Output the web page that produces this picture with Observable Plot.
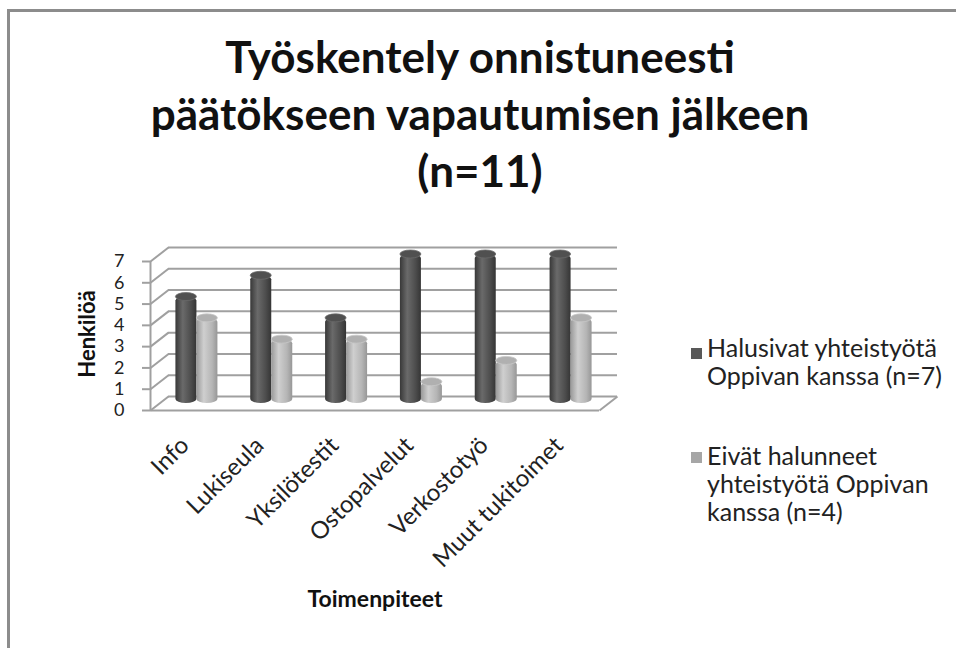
<!DOCTYPE html>
<html><head><meta charset="utf-8">
<script src="https://cdn.jsdelivr.net/npm/d3@7"></script>
<script src="https://cdn.jsdelivr.net/npm/@observablehq/plot@0.6"></script>
<style>
html,body{margin:0;padding:0;background:#fff;}
#wrap{position:relative;width:956px;height:648px;overflow:hidden;background:#fff;font-family:Lato, sans-serif;}
#frame{position:absolute;left:7px;top:9px;width:1000px;height:700px;border-top:3px solid #8c8c8c;border-left:3px solid #8c8c8c;}
#chart{position:absolute;left:0;top:0;}
#title{position:absolute;left:0;top:28px;width:960px;text-align:center;font-weight:700;font-size:44px;line-height:57px;color:#111;}
.legend-item{position:absolute;left:707px;width:262px;font-size:25px;line-height:28px;color:#222;}
.swatch{position:absolute;left:691px;width:11px;height:11px;}
</style></head>
<body>
<svg width="0" height="0" style="position:absolute">
  <defs>
    <linearGradient id="gDark" x1="0" x2="1" y1="0" y2="0">
      <stop offset="0" stop-color="#383838"/>
      <stop offset="0.35" stop-color="#6a6a6a"/>
      <stop offset="0.75" stop-color="#4c4c4c"/>
      <stop offset="1" stop-color="#353535"/>
    </linearGradient>
    <linearGradient id="gLight" x1="0" x2="1" y1="0" y2="0">
      <stop offset="0" stop-color="#999999"/>
      <stop offset="0.35" stop-color="#cfcfcf"/>
      <stop offset="0.75" stop-color="#b5b5b5"/>
      <stop offset="1" stop-color="#979797"/>
    </linearGradient>
  </defs>
</svg>
<div id="wrap">
  <div id="frame"></div>
  <div id="chart"></div>
  <div id="title"></div>
</div>
<script>
const titleLines = ["Työskentely onnistuneesti", "päätökseen vapautumisen jälkeen", "(n=11)"];
const categories = ["Info", "Lukiseula", "Yksilötestit", "Ostopalvelut", "Verkostotyö", "Muut tukitoimet"];
const wanted = [5, 6, 4, 7, 7, 7];
const notWanted = [4, 3, 3, 1, 2, 4];
const seriesNames = ["Halusivat yhteistyötä Oppivan kanssa (n=7)", "Eivät halunneet yhteistyötä Oppivan kanssa (n=4)"];
const seriesColors = ["#595959", "#a6a6a6"];
const yTicks = [0, 1, 2, 3, 4, 5, 6, 7];
const yLabel = "Henkilöä";
const xLabel = "Toimenpiteet";

const W = 956, H = 648;
const mL = 150, mR = 357, mT = 261, mB = 238;
const pxPerX = (W - mL - mR) / categories.length;
const pxPerY = (H - mT - mB) / 7;
const depth = {x: 18, y: 14};
const DX = depth.x / pxPerX, DY = depth.y / pxPerY;
const BW = 21 / pxPerX;
const grid = "#a0a0a0";

const rows = categories.flatMap((c, i) => [
  {cat: c, i, s: 0, value: wanted[i]},
  {cat: c, i, s: 1, value: notWanted[i]}
]);
const dark = rows.filter(d => d.s === 0);
const light = rows.filter(d => d.s === 1);

const chart = Plot.plot({
  width: W, height: H,
  marginLeft: mL, marginRight: mR, marginTop: mT, marginBottom: mB,
  x: {domain: [0, categories.length], axis: null},
  y: {domain: [0, 7], axis: null},
  style: {background: "transparent", fontFamily: "Lato, sans-serif", color: "#222"},
  marks: [
    Plot.ruleY(yTicks, {y: d => d, dx: depth.x, dy: -depth.y, stroke: grid, strokeWidth: 2}),
    Plot.link(yTicks, {x1: 0, y1: d => d, x2: DX, y2: d => d + DY, stroke: grid, strokeWidth: 2}),
    Plot.ruleX([0], {y1: 0, y2: 7, stroke: grid, strokeWidth: 2}),
    Plot.ruleY(yTicks, {y: d => d, x1: -8 / pxPerX, x2: 0, stroke: grid, strokeWidth: 2}),
    Plot.ruleY([0], {y: d => d, x1: 0, x2: categories.length, stroke: grid, strokeWidth: 2}),
    Plot.link([0], {x1: categories.length, y1: 0, x2: categories.length + DX, y2: DY, stroke: grid, strokeWidth: 2}),
    Plot.rectY(dark, {x1: d => d.i + 0.5 - BW, x2: d => d.i + 0.5, y1: 0, y2: "value", dx: depth.x / 2, dy: -depth.y / 2, fill: "url(#gDark)", rx: 10.5, ry: 4}),
    Plot.rectY(light, {x1: d => d.i + 0.5, x2: d => d.i + 0.5 + BW, y1: 0, y2: "value", dx: depth.x / 2, dy: -depth.y / 2, fill: "url(#gLight)", rx: 10.5, ry: 4}),
    Plot.rectY(dark, {x1: d => d.i + 0.5 - BW, x2: d => d.i + 0.5, y1: "value", y2: "value", insetTop: -4, insetBottom: -4, dx: depth.x / 2, dy: -depth.y / 2, fill: "#505050", stroke: "#6a6a6a", strokeWidth: 0.8, rx: 10.5, ry: 4}),
    Plot.rectY(light, {x1: d => d.i + 0.5, x2: d => d.i + 0.5 + BW, y1: "value", y2: "value", insetTop: -4, insetBottom: -4, dx: depth.x / 2, dy: -depth.y / 2, fill: "#b0b0b0", stroke: "#c8c8c8", strokeWidth: 0.8, rx: 10.5, ry: 4}),
    Plot.text(yTicks, {x: 0, y: d => d, text: d => String(d), dx: -26, textAnchor: "end", fontSize: 18, fill: "#222"}),
    Plot.text(categories, {x: (d, i) => i + 0.5, y: 0, text: d => d, rotate: -45, textAnchor: "end", dx: -3, dy: 31, fontSize: 24, fill: "#222"}),
    Plot.text([yLabel], {frameAnchor: "left", text: d => d, rotate: -90, textAnchor: "middle", dx: -63, dy: -2, fontSize: 22, fontWeight: "bold", fill: "#111"}),
    Plot.text([xLabel], {frameAnchor: "bottom", text: d => d, dy: 196, fontSize: 23, fontWeight: "bold", fill: "#111"})
  ]
});
document.getElementById("chart").appendChild(chart);

document.getElementById("title").innerHTML = titleLines.join("<br>");

const wrap = document.getElementById("wrap");
const legendTops = [333, 441];
const swatchTops = [348, 452];
seriesNames.forEach((name, k) => {
  const sw = document.createElement("div");
  sw.className = "swatch";
  sw.style.top = swatchTops[k] + "px";
  sw.style.background = seriesColors[k];
  wrap.appendChild(sw);
  const t = document.createElement("div");
  t.className = "legend-item";
  t.style.top = legendTops[k] + "px";
  t.textContent = name;
  wrap.appendChild(t);
});
</script>
</body></html>
